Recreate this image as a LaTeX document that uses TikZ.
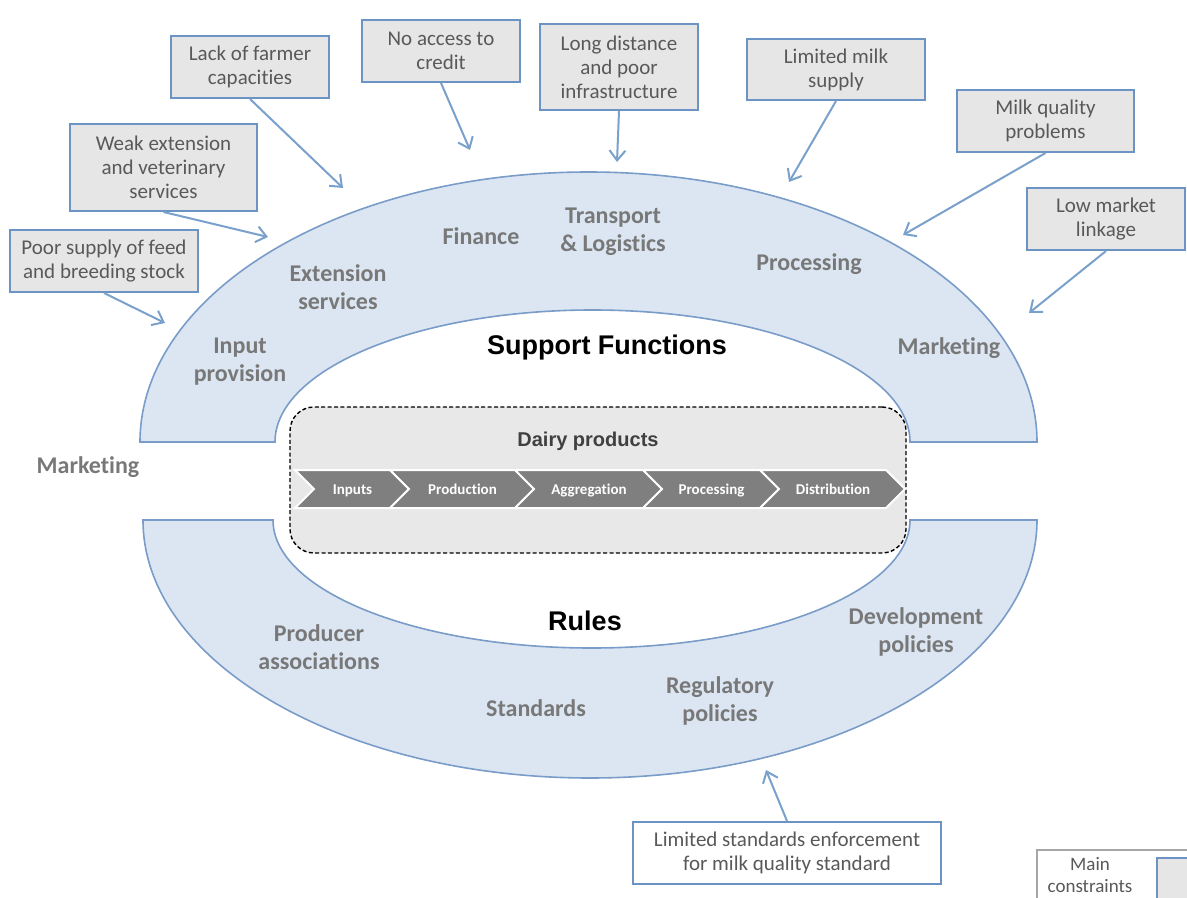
\documentclass[tikz,border=0pt]{standalone}
\usepackage{fontspec}
\setmainfont[Ligatures=NoCommon]{Carlito}
\newfontfamily\arialfont{Liberation Sans}
\usetikzlibrary{arrows.meta}
\definecolor{archfill}{HTML}{DCE6F2}
\definecolor{archline}{HTML}{7A9CC8}
\definecolor{boxfill}{HTML}{E6E6E6}
\definecolor{boxline}{HTML}{6B93C4}
\definecolor{arrowc}{HTML}{7AA0CC}
\definecolor{txt}{HTML}{595959}
\definecolor{lbl}{HTML}{787878}
\definecolor{chev}{HTML}{7F7F7F}
\definecolor{dairyfill}{HTML}{E8E8E8}
\definecolor{legline}{HTML}{A6A6A6}
\begin{document}
\begin{tikzpicture}[x=0.5pt,y=-0.5pt,
  cbox/.style={draw=boxline,fill=boxfill,line width=1pt,text=txt,align=center,
    font=\fontsize{10.5}{12}\selectfont,inner sep=0pt},
  lab/.style={text=lbl,align=center,font=\bfseries\fontsize{12}{14}\selectfont},
  con/.style={draw=arrowc,line width=1pt,-{Straight Barb[length=5pt,width=8pt,line width=1pt]}},
  arch/.style={draw=archline,fill=archfill,line width=0.8pt},
  chevron/.style={fill=chev,draw=white,line width=1pt},
  chevlab/.style={text=white,font=\bfseries\fontsize{7.5}{9}\selectfont,text height=1.6ex,text depth=0.4ex},
  title/.style={font=\arialfont\bfseries\fontsize{13.5}{16}\selectfont,text=black}
]
\useasboundingbox (0,0) rectangle (1187,898);
\clip (0,0) rectangle (1187,898);

% upper arch (support functions)
\path[arch] (140,442) arc[start angle=180,end angle=360,x radius=448.5,y radius=270]
  -- (910,442) arc[start angle=360,end angle=180,x radius=317.5,y radius=132] -- cycle;
% lower arch (rules)
\path[arch] (143,520) arc[start angle=180,end angle=0,x radius=447,y radius=258]
  -- (910,520) arc[start angle=0,end angle=180,x radius=318.5,y radius=128] -- cycle;

% dairy box
\node[draw=black,dashed,dash pattern=on 2pt off 1.2pt,line width=0.7pt,fill=dairyfill,
  rounded corners=12pt,minimum width=308pt,minimum height=73pt] (dairy) at (598,480) {};
\node[font=\arialfont\bfseries\fontsize{10}{12}\selectfont,text=black!75] (dairyt) at (588,441) {Dairy products};

% chevrons
\foreach \L/\R/\t/\n in {295/390/Inputs/c1,390/515/Production/c2,515/643/Aggregation/c3,643/760/Processing/c4,760/886/Distribution/c5}{
  \path[chevron] (\L,470) -- (\R,470) -- (\R+19,489) -- (\R,508) -- (\L,508) -- (\L+19,489) -- cycle;
  \node[chevlab] (\n) at ({(\L+\R)/2+10},489) {\t};
}

% titles
\node[title] (sf) at (607,348) {Support Functions};
\node[title] (rules) at (585,621) {Rules};

% arch labels
\node[lab] (inp) at (240,362) {Input\\provision};
\node[lab] (ext) at (338,287) {Extension\\services};
\node[lab] (fin) at (481,236) {Finance};
\node[lab] (tra) at (613,232) {Transport\\\& Logistics};
\node[lab] (proc) at (809,264) {Processing};
\node[lab] (mktr) at (949,348) {Marketing};
\node[lab] (mktl) at (88,467) {Marketing};
\node[lab] (prod) at (319,647) {Producer\\associations};
\node[lab] (std) at (536,708) {Standards};
\node[lab] (reg) at (720,701) {Regulatory\\policies};
\node[lab] (dev) at (916,632) {Development\\policies};

% constraint boxes
\node[cbox,minimum width=79pt,minimum height=31pt] (lack) at (250,67) {Lack of farmer\\capacities};
\node[cbox,minimum width=79pt,minimum height=31pt] (credit) at (441,51) {No access to\\credit};
\node[cbox,minimum width=79pt,minimum height=43pt] (dist) at (619,67) {Long distance\\and poor\\infrastructure};
\node[cbox,minimum width=89pt,minimum height=30.5pt] (milk) at (836,69.5) {Limited milk\\supply};
\node[cbox,minimum width=88.5pt,minimum height=31pt] (qual) at (1045.5,121) {Milk quality\\problems};
\node[cbox,minimum width=79pt,minimum height=31pt] (mkt) at (1106,219) {Low market\\linkage};
\node[cbox,minimum width=93.5pt,minimum height=43.5pt] (weak) at (163.5,167.5) {Weak extension\\and veterinary\\services};
\node[cbox,minimum width=94pt,minimum height=31pt] (poor) at (104,261) {Poor supply of feed\\and breeding stock};
\node[cbox,fill=white,minimum width=154pt,minimum height=31pt] (enf) at (787,853) {Limited standards enforcement\\for milk quality standard};

% arrow targets
\coordinate (tlack) at (343,188);
\coordinate (tcredit) at (470,150);
\coordinate (tdist) at (617,162);
\coordinate (tmilk) at (789,182);
\coordinate (tqual) at (903,235);
\coordinate (tmkt) at (1029,313);
\coordinate (tweak) at (268,237);
\coordinate (tpoor) at (165,323);
\coordinate (tenf) at (766,770);

\draw[con] (lack.south) -- (tlack);
\draw[con] (credit.south) -- (tcredit);
\draw[con] (dist.south) -- (tdist);
\draw[con] (milk.south) -- (tmilk);
\draw[con] (qual.south) -- (tqual);
\draw[con] (mkt.south) -- (tmkt);
\draw[con] (weak.south) -- (tweak);
\draw[con] (poor.south) -- (tpoor);
\draw[con] (enf.north) -- (tenf);

% legend
\path[draw=legline,fill=white,line width=0.6pt] (1037,850) rectangle (1210,920);
\path[draw=boxline,fill=boxfill,line width=1pt] (1157,858) rectangle (1210,920);
\node[text=txt,align=center,font=\fontsize{9.5}{11}\selectfont] (leg) at (1090,875) {Main\\constraints};
\end{tikzpicture}
\end{document}
